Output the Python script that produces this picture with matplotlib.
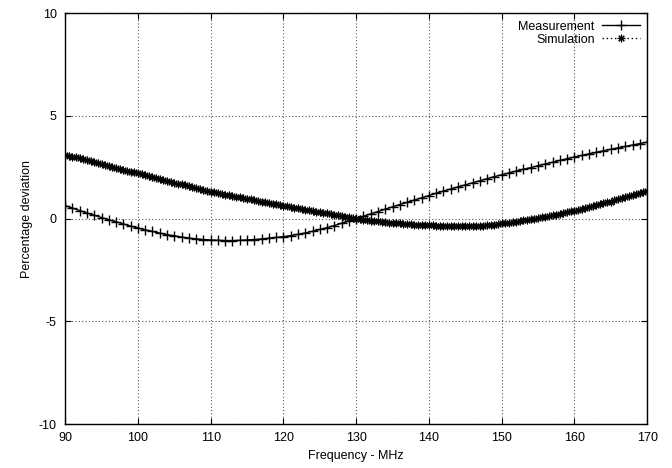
import numpy as np
import matplotlib
matplotlib.use("Agg")
import matplotlib.pyplot as plt

plt.rcParams['font.family'] = ['Liberation Sans', 'DejaVu Sans']
plt.rcParams['axes.unicode_minus'] = False

# measurement, 1 MHz steps from 90 to 170
meas_freq = np.arange(90, 171, 1)
meas_dev = [
    0.63, 0.51, 0.39, 0.27, 0.16, 0.05, -0.06, -0.16, -0.26, -0.37,
    -0.46, -0.55, -0.63, -0.71, -0.78, -0.84, -0.90, -0.95, -0.99, -1.02,
    -1.04, -1.06, -1.07, -1.07, -1.06, -1.04, -1.02, -0.99, -0.96, -0.92,
    -0.88, -0.83, -0.77, -0.70, -0.62, -0.53, -0.44, -0.34, -0.23, -0.12,
    0.00, 0.11, 0.23, 0.34, 0.46, 0.57, 0.68, 0.79, 0.90, 1.01,
    1.12, 1.23, 1.34, 1.44, 1.54, 1.64, 1.74, 1.84, 1.94, 2.04,
    2.13, 2.22, 2.31, 2.40, 2.48, 2.57, 2.66, 2.74, 2.83, 2.91,
    3.00, 3.07, 3.15, 3.22, 3.30, 3.37, 3.44, 3.51, 3.58, 3.65,
    3.72,
]

# simulation, 0.5 MHz steps from 90 to 170
sim_freq = np.arange(90, 170.25, 0.5)
sim_dev = [
    3.11, 3.065, 3.02, 2.975, 2.93, 2.885, 2.84, 2.795, 2.75, 2.705,
    2.66, 2.61, 2.56, 2.515, 2.47, 2.425, 2.38, 2.335, 2.29, 2.245,
    2.20, 2.155, 2.11, 2.065, 2.02, 1.975, 1.93, 1.885, 1.84, 1.795,
    1.75, 1.705, 1.66, 1.615, 1.57, 1.525, 1.48, 1.435, 1.39, 1.35,
    1.31, 1.275, 1.24, 1.205, 1.17, 1.135, 1.10, 1.065, 1.03, 0.995,
    0.96, 0.93, 0.90, 0.865, 0.83, 0.795, 0.76, 0.73, 0.70, 0.665,
    0.63, 0.595, 0.56, 0.53, 0.50, 0.465, 0.43, 0.40, 0.37, 0.34,
    0.31, 0.28, 0.25, 0.22, 0.19, 0.16, 0.13, 0.095, 0.06, 0.03,
    0.00, -0.025, -0.05, -0.075, -0.10, -0.12, -0.14, -0.16, -0.18, -0.195,
    -0.21, -0.225, -0.24, -0.255, -0.27, -0.28, -0.29, -0.295, -0.30, -0.31,
    -0.32, -0.33, -0.34, -0.345, -0.35, -0.36, -0.37, -0.37, -0.37, -0.375,
    -0.38, -0.375, -0.37, -0.36, -0.35, -0.34, -0.33, -0.31, -0.29, -0.265,
    -0.24, -0.22, -0.20, -0.175, -0.15, -0.12, -0.09, -0.065, -0.04, -0.01,
    0.02, 0.055, 0.09, 0.125, 0.16, 0.195, 0.23, 0.27, 0.31, 0.35,
    0.39, 0.43, 0.47, 0.515, 0.56, 0.605, 0.65, 0.695, 0.74, 0.785,
    0.83, 0.88, 0.93, 0.98, 1.03, 1.08, 1.13, 1.185, 1.24, 1.30,
    1.36,
]

x_ticks = [90, 100, 110, 120, 130, 140, 150, 160, 170]
y_ticks = [-10, -5, 0, 5, 10]

fig = plt.figure(figsize=(6.72, 4.68), dpi=100)
ax = fig.add_axes([0.097, 0.094, 0.866, 0.878])

ax.plot(meas_freq, meas_dev, color='black', lw=1.0, marker='+',
        markersize=6.5, markeredgewidth=1.0, label='Measurement')
ax.plot(sim_freq, sim_dev, color='black', lw=1.0, ls=(0, (1, 2)),
        marker=(8, 2, 0), markersize=5.5, markeredgewidth=0.8,
        label='Simulation')

ax.set_xlim(90, 170)
ax.set_ylim(-10, 10)
ax.set_xticks(x_ticks)
ax.set_yticks(y_ticks)
ax.tick_params(direction='in', top=True, right=True, length=4,
               labelsize=9, pad=6)
ax.grid(True, color='#555555', ls=(0, (1, 2)), lw=0.8)
for s in ax.spines.values():
    s.set_linewidth(1.0)

ax.set_xlabel('Frequency - MHz', fontsize=9)
ax.set_ylabel('Percentage deviation', fontsize=9)

leg = ax.legend(loc='upper right', frameon=False, markerfirst=False,
                numpoints=1, fontsize=9, handlelength=3.0,
                borderaxespad=0.2, labelspacing=0.1, handletextpad=0.6)
for t in leg.get_texts():
    t.set_ha('right')

fig.savefig('out.png', dpi=100)
